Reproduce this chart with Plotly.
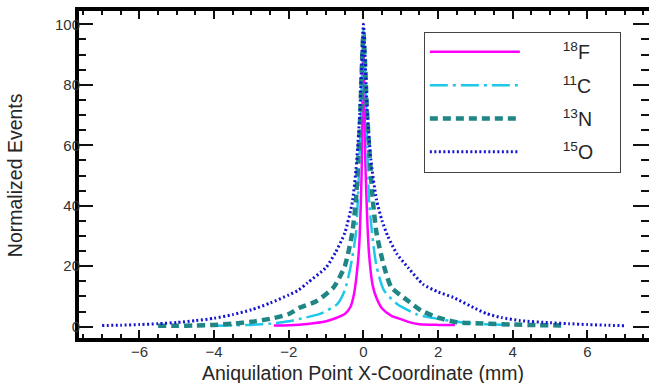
import plotly.graph_objects as go

# ---- data ----
x_F18 = [-2.4, -2.0, -1.5, -1.0, -0.75, -0.5, -0.35, -0.25, -0.15, -0.1, -0.05, 0.0,
         0.05, 0.1, 0.15, 0.25, 0.35, 0.5, 0.75, 1.0, 1.2, 1.5, 2.0, 2.45]
y_F18 = [0.4, 0.5, 0.9, 1.8, 2.8, 4.2, 6.5, 11, 21, 30, 50, 95,
         55, 36, 24, 13.5, 9.5, 6.0, 3.6, 2.5, 1.6, 0.8, 0.6, 0.6]

x_C11 = [-4.0, -3.5, -3.0, -2.5, -2.0, -1.7, -1.15, -0.7, -0.5, -0.35, -0.2, -0.15, -0.08, 0.0,
         0.08, 0.15, 0.23, 0.35, 0.55, 0.9, 1.45, 2.0, 2.5, 3.0, 3.5, 4.0]
y_C11 = [0.3, 0.4, 0.6, 1.0, 1.8, 2.6, 4.3, 7.5, 12, 19.5, 31, 42, 65, 98,
         70, 42, 31, 20, 12, 7.5, 4.0, 2.6, 1.6, 1.0, 0.7, 0.6]

x_N13 = [-5.5, -5.0, -4.5, -4.0, -3.5, -3.0, -2.5, -2.0, -1.7, -1.25, -0.8, -0.5, -0.3, -0.2, -0.1, 0.0,
         0.1, 0.25, 0.35, 0.55, 0.75, 1.2, 1.55, 2.0, 2.5, 3.3, 4.0, 4.7, 5.4]
y_N13 = [0.3, 0.3, 0.4, 0.6, 1.0, 1.6, 2.6, 4.2, 6.3, 8.5, 13, 20, 31, 42, 65, 97,
         70, 42, 31, 20, 13, 8.5, 5.3, 3.0, 1.5, 1.0, 0.7, 0.5, 0.4]

x_O15 = [-7.0, -6.5, -6.0, -5.5, -5.0, -4.5, -4.0, -3.5, -3.0, -2.5, -2.0, -1.75, -1.5, -1.0, -0.75,
         -0.5, -0.3, -0.2, -0.1, 0.0,
         0.1, 0.2, 0.35, 0.5, 0.65, 0.9, 1.2, 1.6, 2.0, 2.4, 3.0, 3.3, 3.7, 4.2, 5.0, 5.5, 6.0, 6.5, 7.0]
y_O15 = [0.4, 0.5, 0.7, 1.0, 1.4, 2.0, 2.8, 4.0, 5.6, 7.8, 10.5, 12, 14.5, 19.6, 24.5,
         31, 41, 52, 70, 100,
         72, 55, 42, 35, 30, 24, 19.5, 14, 11.5, 9.7, 6.0, 4.3, 3.0, 2.0, 1.3, 1.0, 0.7, 0.5, 0.3]

series_names = ["<sup>18</sup>F", "<sup>11</sup>C", "<sup>13</sup>N", "<sup>15</sup>O"]
x_tickvals = [-6, -4, -2, 0, 2, 4, 6]
y_tickvals = [0, 20, 40, 60, 80, 100]
x_title = "Aniquilation Point X-Coordinate (mm)"
y_title = "Normalized Events"

# ---- styles ----
styles = [
    dict(color="#ff00ff", width=2.5, dash="solid"),
    dict(color="#1ec8e8", width=2.5, dash="18px,5px,3px,5px"),
    dict(color="#1f8585", width=4.5, dash="8px,5px"),
    dict(color="#1414d2", width=3, dash="2px,2.5px"),
]

xs = [x_F18, x_C11, x_N13, x_O15]
ys = [y_F18, y_C11, y_N13, y_O15]

PAD_L = "&nbsp;" * 7
PAD_R = "&nbsp;" * 4

fig = go.Figure()
for i, (xv, yv, nm, st) in enumerate(zip(xs, ys, series_names, styles)):
    fig.add_trace(go.Scatter(x=xv, y=yv, mode="lines", name=PAD_L + nm + PAD_R,
                             line=dict(shape="spline", smoothing=0.6, **st),
                             legendgroup=str(i)))

# invisible trace to activate secondary axes (mirror ticks on top/right)
fig.add_trace(go.Scatter(x=[0], y=[0], xaxis="x2", yaxis="y2", mode="markers",
                         marker=dict(opacity=0), showlegend=False, hoverinfo="skip"))

XR = [-7.62, 7.65]
YR = [-3.74, 104.4]
FAM = "Liberation Sans, Arial, sans-serif"
tickfont = dict(family=FAM, size=15, color="#333333")
titlefont = dict(family=FAM, size=19.5, color="#262626")

fig.update_layout(
    width=649, height=383,
    margin=dict(l=79, r=0, t=11, b=45, autoexpand=False),
    paper_bgcolor="white", plot_bgcolor="white",
    showlegend=True,
    legend=dict(
        x=0.605, y=0.937, xanchor="left", yanchor="top",
        bgcolor="white", bordercolor="#444444", borderwidth=1,
        font=dict(family=FAM, size=19.5, color="#262626"),
        itemwidth=90, traceorder="grouped", tracegroupgap=5,
    ),
    xaxis=dict(
        range=XR, tickvals=x_tickvals,
        ticktext=[("\u2212" + str(-v)) if v < 0 else str(v) for v in x_tickvals],
        ticks="inside", ticklen=8, tickwidth=2, tickcolor="#111111",
        minor=dict(dtick=0.5, tick0=0, ticks="inside", ticklen=4, tickwidth=1.5, tickcolor="#111111"),
        showline=True, linewidth=4, linecolor="black", showgrid=False, zeroline=False,
        tickfont=tickfont, automargin=False, ticklabelstandoff=-3,
    ),
    yaxis=dict(
        range=YR, tickvals=y_tickvals,
        ticks="inside", ticklen=14, tickwidth=2, tickcolor="#111111",
        minor=dict(dtick=5, tick0=0, ticks="inside", ticklen=7, tickwidth=1.5, tickcolor="#111111"),
        showline=True, linewidth=4, linecolor="black", showgrid=False, zeroline=False,
        tickfont=tickfont, automargin=False, ticklabelstandoff=-8,
    ),
    xaxis2=dict(
        range=XR, overlaying="x", side="top", tickvals=x_tickvals, showticklabels=False,
        ticks="inside", ticklen=8, tickwidth=2, tickcolor="#111111",
        minor=dict(dtick=0.5, tick0=0, ticks="inside", ticklen=4, tickwidth=1.5, tickcolor="#111111"),
        showline=True, linewidth=4, linecolor="black", showgrid=False, zeroline=False,
        automargin=False,
    ),
    yaxis2=dict(
        range=YR, overlaying="y", side="right", tickvals=y_tickvals, showticklabels=False,
        ticks="inside", ticklen=16, tickwidth=2, tickcolor="#111111",
        minor=dict(dtick=5, tick0=0, ticks="inside", ticklen=8, tickwidth=1.5, tickcolor="#111111"),
        showline=False, showgrid=False, zeroline=False, automargin=False,
    ),
    annotations=[
        dict(text=x_title, xref="paper", yref="paper", x=0.498, y=-0.107,
             xanchor="center", yanchor="middle", showarrow=False, font=titlefont),
        dict(text=y_title, xref="paper", yref="paper", x=-0.1123, y=0.498, textangle=-90,
             xanchor="center", yanchor="middle", showarrow=False, font=titlefont),
    ],
)

# remove the default 8px page margin so the figure fills the window exactly
fig.write_html("out.html", config={"displayModeBar": False},
               post_script="document.body.style.margin='0px';")
